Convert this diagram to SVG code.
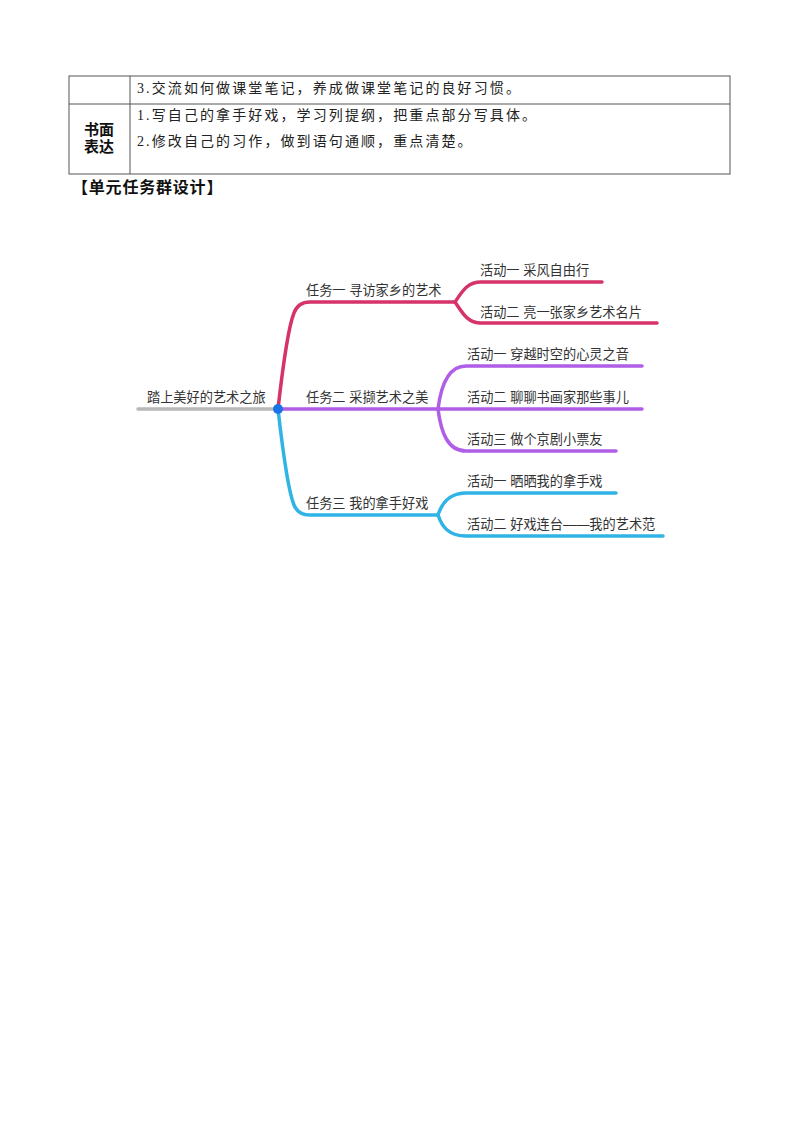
<svg xmlns="http://www.w3.org/2000/svg" width="800" height="1132" viewBox="0 0 800 1132">
<style>
.tb{font-family:"Liberation Serif","Noto Sans CJK SC",serif;font-size:14px;fill:#222;letter-spacing:2.1px}
.hd{font-family:"Liberation Sans","Noto Sans CJK SC",sans-serif;font-size:15px;font-weight:bold;fill:#111}
.mm{font-family:"Liberation Sans","Noto Sans CJK SC",sans-serif;font-size:13.2px;fill:#333}
.ln{fill:none;stroke:#555;stroke-width:1}
.red{fill:none;stroke:#d5336a;stroke-width:3.5;stroke-linecap:round}
.pur{fill:none;stroke:#b05ee6;stroke-width:3.5;stroke-linecap:round}
.blu{fill:none;stroke:#30b4e6;stroke-width:3.5;stroke-linecap:round}
</style>
<rect width="800" height="1132" fill="#fff"/>
<g id="table">
<rect class="ln" x="69" y="76" width="661" height="98"/>
<line class="ln" x1="130" y1="76" x2="130" y2="174"/>
<line class="ln" x1="69" y1="104" x2="730" y2="104"/>
<text class="tb" x="137" y="93">3.交流如何做课堂笔记，养成做课堂笔记的良好习惯。</text>
<text class="hd" x="99" y="135" text-anchor="middle">书面</text>
<text class="hd" x="99" y="152" text-anchor="middle">表达</text>
<text class="tb" x="137" y="120">1.写自己的拿手好戏，学习列提纲，把重点部分写具体。</text>
<text class="tb" x="137" y="146">2.修改自己的习作，做到语句通顺，重点清楚。</text>
</g>
<text id="title" class="hd" x="72" y="193" style="font-size:16px;letter-spacing:0.8px">【单元任务群设计】</text>
<g id="connectors">
<line x1="138" y1="409" x2="278" y2="409" stroke="#b8b8b8" stroke-width="3.5" stroke-linecap="round"/>
<path class="red" d="M278,409 C283,365 289,325 294,313 Q298,302 310,302 H455"/>
<path class="red" d="M455,302 C462,292 467,282 481,282 H602"/>
<path class="red" d="M455,302 C462,312 467,323 481,323 H657"/>
<path class="pur" d="M278,409 H438"/>
<path class="pur" d="M438,409 C441,385 448,366 466,366 H642"/>
<path class="pur" d="M438,409 H642"/>
<path class="pur" d="M438,409 C441,433 448,451 466,451 H616"/>
<path class="blu" d="M278,409 C283,453 289,493 294,505 Q298,515 310,515 H438"/>
<path class="blu" d="M438,515 C442,503 449,493 466,493 H616"/>
<path class="blu" d="M438,515 C442,527 449,536 466,536 H663"/>
</g>
<g id="root"><circle cx="278" cy="409" r="5" fill="#1a73e8"/><text class="mm" x="147" y="402">踏上美好的艺术之旅</text></g>
<g id="task1"><text class="mm" x="306" y="295">任务一 寻访家乡的艺术</text></g>
<g id="task2"><text class="mm" x="306" y="402">任务二 采撷艺术之美</text></g>
<g id="task3"><text class="mm" x="306" y="508">任务三 我的拿手好戏</text></g>
<g id="a11"><text class="mm" x="480" y="275">活动一 采风自由行</text></g>
<g id="a12"><text class="mm" x="480" y="317">活动二 亮一张家乡艺术名片</text></g>
<g id="a21"><text class="mm" x="467" y="359">活动一 穿越时空的心灵之音</text></g>
<g id="a22"><text class="mm" x="467" y="402">活动二 聊聊书画家那些事儿</text></g>
<g id="a23"><text class="mm" x="467" y="444">活动三 做个京剧小票友</text></g>
<g id="a31"><text class="mm" x="467" y="486">活动一 晒晒我的拿手戏</text></g>
<g id="a32"><text class="mm" x="467" y="529">活动二 好戏连台——我的艺术范</text></g>
</svg>
